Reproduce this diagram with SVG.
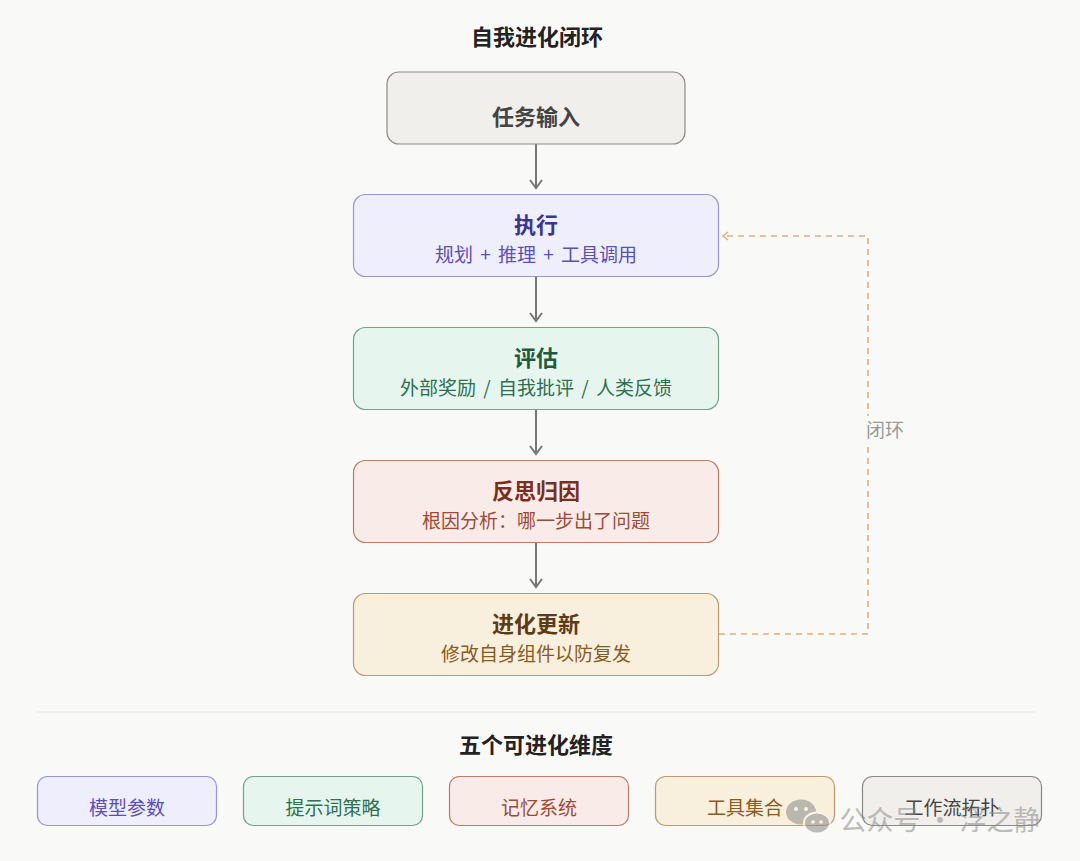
<svg xmlns="http://www.w3.org/2000/svg" width="1080" height="861" viewBox="0 0 1080 861">
<defs>
<style>
text{font-family:"Noto Sans CJK SC","Noto Sans",sans-serif;text-anchor:middle}
.h{font-size:22px;font-weight:700}
.s{font-size:19px;word-spacing:3px}
.t{font-size:22px;font-weight:700;fill:#222}
.arrow{stroke:#777;stroke-width:2;fill:none}
.loop{stroke:#dcb07e;stroke-width:1.6;fill:none;stroke-dasharray:6 5}
.b{font-size:19px}
</style>
<marker id="ah" viewBox="0 0 12 14" refX="10" refY="7" markerWidth="12" markerHeight="14" markerUnits="userSpaceOnUse" orient="auto">
<path d="M2 1 L10 7 L2 13" fill="none" stroke="#777" stroke-width="2"/>
</marker>
<marker id="ahl" viewBox="0 0 10 12" refX="8" refY="6" markerWidth="10" markerHeight="12" markerUnits="userSpaceOnUse" orient="auto">
<path d="M3 2 L8 6 L3 10" fill="none" stroke="#dcb07e" stroke-width="1.6"/>
</marker>
</defs>
<rect width="1080" height="861" fill="#f9f9f7"/>
<text class="t" x="537" y="45">自我进化闭环</text>

<g id="connectors">
<line class="arrow" x1="536" y1="144" x2="536" y2="188" marker-end="url(#ah)"/>
<line class="arrow" x1="536" y1="277" x2="536" y2="321" marker-end="url(#ah)"/>
<line class="arrow" x1="536" y1="410" x2="536" y2="454" marker-end="url(#ah)"/>
<line class="arrow" x1="536" y1="543" x2="536" y2="587" marker-end="url(#ah)"/>
<polyline class="loop" points="719,634 868,634 868,236 723,236" marker-end="url(#ahl)"/>
<rect x="862" y="416" width="46" height="28" fill="#f9f9f7"/>
<text x="885" y="437" style="font-size:19px;fill:#999">闭环</text>
</g>

<g id="task">
<rect x="387" y="72" width="298" height="72" rx="12" fill="#f0efeb" stroke="#8a8a85" stroke-width="1.2"/>
<text class="h" x="536" y="125" fill="#444">任务输入</text>
</g>
<g id="execute">
<rect x="353.5" y="194.5" width="365" height="82" rx="12" fill="#efeefd" stroke="#9a93dc" stroke-width="1.2"/>
<text class="h" x="536" y="233" fill="#3b3590">执行</text>
<text class="s" x="536" y="262" fill="#5a50b8">规划 + 推理 + 工具调用</text>
</g>
<g id="evaluate">
<rect x="353.5" y="327.5" width="365" height="82" rx="12" fill="#e6f6ef" stroke="#6fa38a" stroke-width="1.2"/>
<text class="h" x="536" y="366" fill="#1f5a3e">评估</text>
<text class="s" x="536" y="395" fill="#2e7050">外部奖励 / 自我批评 / 人类反馈</text>
</g>
<g id="reflect">
<rect x="353.5" y="460.5" width="365" height="82" rx="12" fill="#f9ece8" stroke="#c07a68" stroke-width="1.2"/>
<text class="h" x="536" y="499" fill="#7a2f1e">反思归因</text>
<text class="s" x="536" y="528" fill="#a04a35">根因分析：哪一步出了问题</text>
</g>
<g id="evolve">
<rect x="353.5" y="593.5" width="365" height="82" rx="12" fill="#f8efdc" stroke="#c09a6a" stroke-width="1.2"/>
<text class="h" x="536" y="632" fill="#5e3b14">进化更新</text>
<text class="s" x="536" y="661" fill="#8a5a20">修改自身组件以防复发</text>
</g>

<line x1="37" y1="712" x2="1035" y2="712" stroke="#e8e8e4" stroke-width="1"/>
<text class="t" x="536" y="753">五个可进化维度</text>

<g id="dim1">
<rect x="37.5" y="776.5" width="179" height="49" rx="10" fill="#efeefd" stroke="#9a93dc" stroke-width="1.2"/>
<text class="b" x="127" y="815" fill="#5a50b8">模型参数</text>
</g>
<g id="dim2">
<rect x="243.5" y="776.5" width="179" height="49" rx="10" fill="#e6f6ef" stroke="#6fa38a" stroke-width="1.2"/>
<text class="b" x="333" y="815" fill="#2e7050">提示词策略</text>
</g>
<g id="dim3">
<rect x="449.5" y="776.5" width="179" height="49" rx="10" fill="#f9ece8" stroke="#c07a68" stroke-width="1.2"/>
<text class="b" x="539" y="815" fill="#a04a35">记忆系统</text>
</g>
<g id="dim4">
<rect x="655.5" y="776.5" width="179" height="49" rx="10" fill="#f8efdc" stroke="#c09a6a" stroke-width="1.2"/>
<text class="b" x="745" y="815" fill="#8a5a20">工具集合</text>
</g>
<g id="dim5">
<rect x="862.5" y="776.5" width="179" height="49" rx="10" fill="#f0efeb" stroke="#8a8a85" stroke-width="1.2"/>
<text class="b" x="952" y="815" fill="#444">工作流拓扑</text>
</g>

<g id="watermark" opacity="0.55">
<ellipse cx="801" cy="812" rx="15" ry="12.5" fill="#8a8a8a"/>
<circle cx="796" cy="809" r="2" fill="#f9f9f7"/>
<circle cx="806" cy="809" r="2" fill="#f9f9f7"/>
<ellipse cx="817" cy="823" rx="13" ry="10.5" fill="#8a8a8a" stroke="#f9f9f7" stroke-width="2"/>
<circle cx="813" cy="822" r="1.8" fill="#f9f9f7"/>
<circle cx="821" cy="822" r="1.8" fill="#f9f9f7"/>
<text x="940" y="830" style="font-size:27px;fill:#8a8a8a">公众号 · 浮之静</text>
</g>
</svg>
